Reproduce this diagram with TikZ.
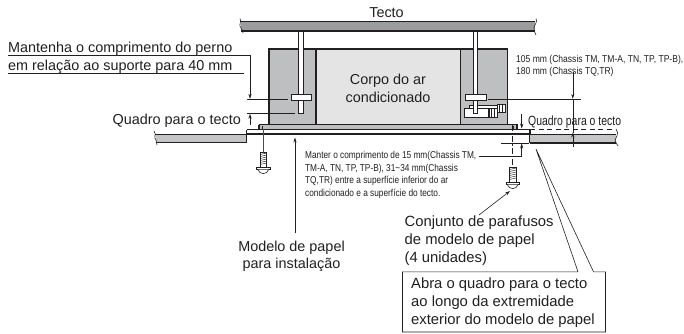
\documentclass[tikz,border=0pt]{standalone}
\usepackage{fontspec}
\setmainfont{Liberation Sans}
\usetikzlibrary{arrows.meta}
\definecolor{band}{HTML}{9A9C9E}
\definecolor{side}{HTML}{BEBFC1}
\definecolor{core}{HTML}{E4E4E4}
\definecolor{slab}{HTML}{C4C5C6}
\definecolor{ink}{HTML}{231F20}
\tikzset{
  heavy/.style={draw=ink,line width=1.1pt},
  medium/.style={draw=ink,line width=.75pt},
  thin leader/.style={draw=ink,line width=.6pt},
  tip/.style={-{Stealth[length=5pt,width=3.2pt]},draw=ink,line width=.6pt},
  big/.style={font=\fontsize{14.4}{18}\selectfont,text=ink,inner sep=0pt,align=left},
  bigc/.style={font=\fontsize{14.4}{17.8}\selectfont,text=ink,inner sep=0pt,align=center},
  bigb/.style={font=\fontsize{14.8}{18}\selectfont,text=ink,inner sep=0pt,align=left},
  nar/.style={font=\fontsize{13.4}{16}\selectfont,text=ink,inner sep=0pt,transform shape,xscale=.78},
  tiny/.style={font=\fontsize{10}{12.6}\selectfont,text=ink,inner sep=0pt,align=left,transform shape,xscale=.83},
  tinyb/.style={font=\fontsize{10}{12}\selectfont,text=ink,inner sep=0pt,align=left,transform shape,xscale=.855},
  thread/.style={draw=ink,line width=.45pt},
}
\newcommand{\scr}[2]{%
  \draw[thin leader,fill=white] (#1-3.2,#2) rectangle (#1+3.2,#2+14.5);
  \foreach \k in {1,...,6} \draw[thread] (#1-3.2,#2+2*\k) -- (#1+3.2,#2+2*\k-1.5);
  \draw[thin leader,fill=white] (#1-6.8,#2+14.5) rectangle (#1+6.8,#2+17);
  \draw[thin leader,fill=white] (#1-5.5,#2+17) .. controls (#1-3.5,#2+22.5) and (#1+3.5,#2+22.5) .. (#1+5.5,#2+17);
}
\begin{document}
\begin{tikzpicture}[x=1pt,y=-1pt]
\useasboundingbox (0,0) rectangle (684,333);
\fill[white] (0,0) rectangle (684,333);

% ceiling above
\fill[band] (241,21) -- (535,21) -- (535,31) -- (241,31) -- cycle;
\draw[medium] (241,21) -- (535,21);
\draw[heavy] (241,31) -- (535,31);
\draw[thin leader] (240,18.5) .. controls (242,22) and (238,25) .. (241,28) .. controls (242,30) and (243,31) .. (243,33);
\draw[thin leader] (536,18.5) .. controls (538,22) and (534,25) .. (534,28) .. controls (533,30) and (535,32) .. (536,35);

% body
\fill[side] (269,49) rectangle (507.5,124);
\fill[core] (316,49) rectangle (460.5,124);
\draw[heavy] (269,124) -- (269,49) -- (507.5,49) -- (507.5,124);
\draw[heavy] (316,49) -- (316,124);
\draw[heavy] (460.5,49) -- (460.5,124);

% rods and nuts
\draw[medium,fill=white] (298,31) rectangle (303,113);
\draw[medium,fill=white] (291,94) rectangle (311.5,100);
% right unit
\draw[medium,fill=white] (497,104.5) rectangle (505,112);
\draw[thin leader] (499.5,104.5) -- (499.5,112) (502.5,104.5) -- (502.5,112);
\draw[medium,fill=white] (489,108) rectangle (497,117);
\draw[thin leader] (491.5,108) -- (491.5,117) (494.5,108) -- (494.5,117);
\draw[medium,fill=white] (469.5,105) rectangle (497,108);
\draw[medium,fill=white] (464,108) rectangle (488.5,117);
\draw[medium,fill=white] (473,31) rectangle (477.5,113);
\draw[medium,fill=white] (465,94.5) rectangle (486,100);

% panel and template
\fill[side] (259,124) rectangle (517,129.5);
\draw[heavy] (259,124.5) -- (517,124.5) -- (517,129.5);
\draw[heavy] (259,124.5) -- (259,129.5);
\draw[thin leader] (262,125.5) -- (262,129.5);
\draw[thin leader] (513,125.5) -- (513,129.5);
\draw[heavy] (247,129.5) -- (530,129.5) -- (530,143);
\draw[heavy] (247,134) -- (530,134);

% side ceilings
\fill[slab] (156,135) rectangle (246,142.5);
\draw[medium] (155,134) -- (246,134);
\draw[heavy] (157,142.5) -- (246.5,142.5) -- (246.5,129.5);
\draw[thin leader] (154,131) .. controls (157,135) and (153,137) .. (156,140) -- (157,145);
\fill[slab] (530,134) rectangle (616,143);
\draw[medium] (530,134) -- (616,134);
\draw[heavy] (530,143) -- (616,143);
\draw[medium,dash pattern=on 5pt off 3.5pt] (530,129.5) -- (612,129.5);
\draw[thin leader] (616,129) .. controls (620,134) and (615,138) .. (615,141) -- (618,146);

% screws
\scr{263.3}{152.5}
\scr{512.7}{167.5}
\coordinate (lsa) at (263.3,129);
\coordinate (lsb) at (263.3,152.5);
\draw[draw=ink!80,line width=.9pt] (lsa) -- (lsb);
\coordinate (rsa) at (512.7,124.5);
\coordinate (rsb) at (512.7,167.5);
\draw[thin leader,dash pattern=on 6pt off 2pt on 1.5pt off 2pt] (rsa) -- (rsb);

% left dimension
\coordinate (a0) at (8,55.5);
\coordinate (a1) at (250,55.5);
\coordinate (a2) at (250,98.8);
\coordinate (a3) at (8,73.5);
\coordinate (a4) at (244,73.5);
\coordinate (b1) at (247,99.3);
\coordinate (b2) at (288,99.3);
\coordinate (c1) at (247,113.3);
\coordinate (c2) at (295,113.3);
\coordinate (d1) at (250,125);
\coordinate (d2) at (250,113.8);
\draw[thin leader] (a3) -- (a4);
\draw[tip] (a0) -- (a1) -- (a2);
\draw[thin leader] (b1) -- (b2);
\draw[thin leader] (c1) -- (c2);
\draw[tip] (d1) -- (d2);

% texts
\node[bigc,anchor=base] (tecto) at (386.5,17) {Tecto};
\node[bigc] (corpo) at (388,88.5) {Corpo do ar\\condicionado};
\node[big,anchor=base west] (mant1) at (8,52.5) {Mantenha o comprimento do perno};
\node[big,anchor=base west] (mant2) at (8,70.5) {em relação ao suporte para 40 mm};
\node[big,anchor=base east] (quadrol) at (241,124) {Quadro para o tecto};
\node[nar,anchor=base west] (quadror) at (528,125) {Quadro para o tecto};
\node[tinyb,anchor=north west] (cem) at (516,55.5) {105 mm (Chassis TM, TM-A, TN, TP, TP-B),\\180 mm (Chassis TQ,TR)};
\node[tiny,anchor=north west] (manter) at (305,151) {Manter o comprimento de 15 mm(Chassis TM,\\TM-A, TN, TP, TP-B), 31\textasciitilde34 mm(Chassis\\TQ,TR) entre a superfície inferior do ar\\condicionado e a superfície do tecto.};
\node[bigc,anchor=north] (modelo) at (291.5,240.5) {Modelo de papel\\para instalação};
\node[bigb,anchor=north west] (conj) at (404.5,216) {Conjunto de parafusos\\de modelo de papel\\(4 unidades)};
\node[bigb,anchor=north west] (abra) at (411,277.5) {Abra o quadro para o tecto\\ao longo da extremidade\\exterior do modelo de papel};

% right dimension
\coordinate (e1) at (488,99.3);
\coordinate (e2) at (581,99.3);
\coordinate (f1) at (572.8,72);
\coordinate (f2) at (572.8,98.8);
\coordinate (g1) at (572.8,147);
\coordinate (g2) at (572.8,132.5);
\draw[thin leader] (e1) -- (e2);
\draw[tip] (f1) -- (f2);
\draw[tip] (g1) -- (g2);
\draw[thin leader] (f2) -- (g2);

% small dimension
\coordinate (h1) at (521.7,114);
\coordinate (h2) at (521.7,128.5);
\coordinate (i1) at (501,142.8);
\coordinate (i2) at (529,142.8);
\coordinate (j1) at (479,156.5);
\coordinate (j2) at (521.7,156.5);
\coordinate (j3) at (521.7,143.5);
\draw[tip] (h1) -- (h2);
\draw[thin leader] (i1) -- (i2);
\draw[tip] (j1) -- (j2) -- (j3);

% arrows to labels
\coordinate (k1) at (479,215);
\coordinate (k2) at (510,191);
\draw[tip] (k1) -- (k2);
\coordinate (l1) at (295,233);
\coordinate (l2) at (295,137.5);
\draw[tip] (l1) -- (l2);

% callout
\coordinate (m0) at (536,149);
\coordinate (m1) at (578,271.8);
\coordinate (m2) at (402.5,271.8);
\coordinate (m3) at (402.5,332);
\coordinate (m4) at (605.5,332);
\coordinate (m5) at (605.5,271.8);
\coordinate (m6) at (593.5,271.8);
\draw[thin leader,line join=miter] (m0) -- (m1) -- (m2) -- (m3) -- (m4) -- (m5) -- (m6) -- (m0);
\end{tikzpicture}
\end{document}
